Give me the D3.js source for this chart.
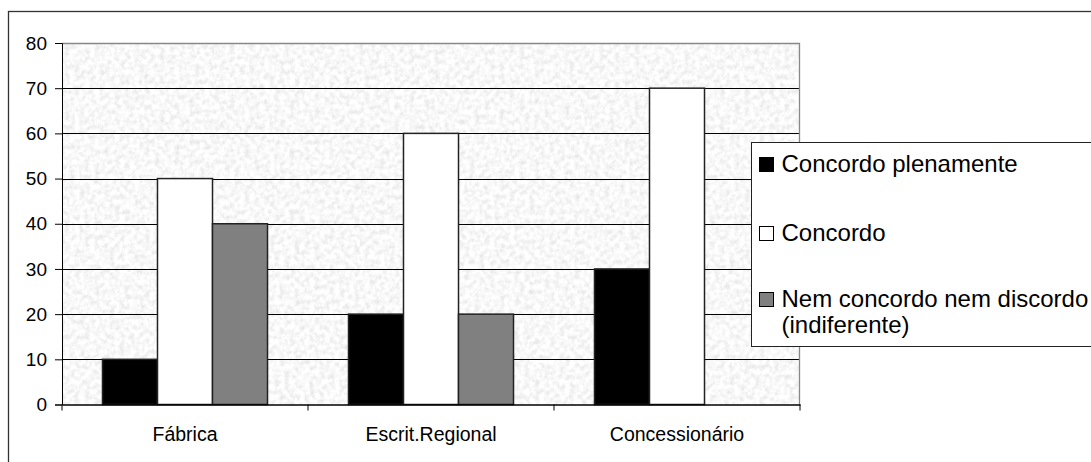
<!DOCTYPE html>
<html>
<head>
<meta charset="utf-8">
<script src="https://cdn.jsdelivr.net/npm/d3@7"></script>
<style>
  body { margin: 0; background: #fff; }
  svg { display: block; font-family: Arial, "Liberation Sans", sans-serif; }
</style>
</head>
<body>
<div id="chart"></div>
<script>
// Chart data
const categories = ["Fábrica", "Escrit.Regional", "Concessionário"];
const seriesNames = ["Concordo plenamente", "Concordo", "Nem concordo nem discordo (indiferente)"];
const concordoPlenamente = [10, 20, 30];
const concordo = [50, 60, 70];
const indiferente = [40, 20, 0];
const yTicks = [0, 10, 20, 30, 40, 50, 60, 70, 80];

const seriesValues = [concordoPlenamente, concordo, indiferente];
const colors = ["#000000", "#ffffff", "#808080"];

const width = 1091, height = 462;
const plot = { left: 62, right: 800, top: 43, bottom: 404.5 };

const svg = d3.select("#chart").append("svg")
    .attr("width", width)
    .attr("height", height);

// Granite-ish background texture for the plot area
const defs = svg.append("defs");
const filter = defs.append("filter")
    .attr("id", "granite")
    .attr("x", 0).attr("y", 0).attr("width", 1).attr("height", 1);
filter.append("feTurbulence")
    .attr("type", "fractalNoise")
    .attr("baseFrequency", 0.2)
    .attr("numOctaves", 3)
    .attr("seed", 4)
    .attr("result", "noise");
filter.append("feColorMatrix")
    .attr("in", "noise")
    .attr("type", "matrix")
    .attr("values", "0.4 0 0 0 0.74  0.4 0 0 0 0.74  0.4 0 0 0 0.74  0 0 0 0 1");

// Outer frame
svg.append("rect")
    .attr("x", 8.5).attr("y", 11.5)
    .attr("width", width + 10).attr("height", height + 10)
    .attr("fill", "none")
    .attr("stroke", "#333")
    .attr("stroke-width", 1.3);

// Scales
const x = d3.scaleBand()
    .domain(categories)
    .range([plot.left, plot.right])
    .paddingInner(0).paddingOuter(0);

const xInner = d3.scaleBand()
    .domain(d3.range(seriesNames.length))
    .range([0, x.bandwidth()])
    .paddingInner(0)
    .paddingOuter(0.736);

const y = d3.scaleLinear()
    .domain([0, 80])
    .range([plot.bottom, plot.top]);

// Plot background
svg.append("rect")
    .attr("x", plot.left).attr("y", plot.top)
    .attr("width", plot.right - plot.left)
    .attr("height", plot.bottom - plot.top)
    .attr("fill", "#eeeeee")
    .attr("filter", "url(#granite)");

// Grid lines
svg.append("g")
    .selectAll("line")
    .data(yTicks.filter(d => d > 0 && d < 80))
    .enter()
    .append("line")
    .attr("x1", plot.left).attr("x2", plot.right)
    .attr("y1", d => Math.round(y(d)) + 0.5)
    .attr("y2", d => Math.round(y(d)) + 0.5)
    .attr("stroke", "#000")
    .attr("stroke-width", 1);

// Plot border (top / right)
svg.append("path")
    .attr("d", `M${plot.left},${plot.top + 0.5}H${plot.right - 0.5}V${plot.bottom}`)
    .attr("fill", "none")
    .attr("stroke", "#888")
    .attr("stroke-width", 1.3);

// Bars
const groups = svg.append("g")
    .selectAll("g")
    .data(categories)
    .enter()
    .append("g")
    .attr("transform", d => `translate(${x(d)},0)`);

groups.selectAll("rect")
    .data((c, ci) => seriesValues.map((vals, si) => ({ si, v: vals[ci] })))
    .enter()
    .filter(d => d.v > 0)
    .append("rect")
    .attr("x", d => xInner(d.si))
    .attr("y", d => y(d.v))
    .attr("width", xInner.bandwidth())
    .attr("height", d => y(0) - y(d.v))
    .attr("fill", d => colors[d.si])
    .attr("stroke", "#222")
    .attr("stroke-width", 1.5);

// Y axis
const yAxis = svg.append("g")
    .attr("transform", `translate(${plot.left},0)`)
    .call(d3.axisLeft(y).tickValues(yTicks).tickSize(7).tickPadding(8));
yAxis.selectAll("text")
    .style("font-size", "19px")
    .style("fill", "#000");
yAxis.selectAll(".domain, .tick line").style("stroke", "#000");

// X axis
const xAxis = svg.append("g")
    .attr("transform", `translate(0,${plot.bottom})`)
    .call(d3.axisBottom(x).tickSize(0).tickPadding(23));
xAxis.select(".domain").style("stroke", "#000").style("stroke-width", 1.3);
xAxis.selectAll("text")
    .style("font-size", "19.5px")
    .style("fill", "#000");

// Category boundary ticks
xAxis.selectAll(".sep")
    .data(categories.map(c => x(c)).concat([plot.right]))
    .enter()
    .append("line")
    .attr("class", "sep")
    .attr("x1", d => d).attr("x2", d => d)
    .attr("y1", 0).attr("y2", 6)
    .attr("stroke", "#000");

// Legend
const legend = svg.append("g").attr("transform", "translate(751.5,142.5)");
legend.append("rect")
    .attr("width", 400).attr("height", 204)
    .attr("fill", "#fff")
    .attr("stroke", "#222")
    .attr("stroke-width", 1);

const legendRows = [
    { lines: ["Concordo plenamente"], y: 29 },
    { lines: ["Concordo"], y: 98 },
    { lines: ["Nem concordo nem discordo", "(indiferente)"], y: 164 }
];

legendRows.forEach((row, i) => {
    legend.append("rect")
        .attr("x", 8).attr("y", row.y - 14)
        .attr("width", 14).attr("height", 14)
        .attr("fill", colors[i])
        .attr("stroke", "#000")
        .attr("stroke-width", 1);
    const t = legend.append("text")
        .attr("x", 30).attr("y", row.y)
        .style("font-size", "24px")
        .style("fill", "#000");
    row.lines.forEach((ln, k) => {
        t.append("tspan")
            .attr("x", 30)
            .attr("dy", k === 0 ? 0 : 26)
            .text(ln);
    });
});
</script>
</body>
</html>
